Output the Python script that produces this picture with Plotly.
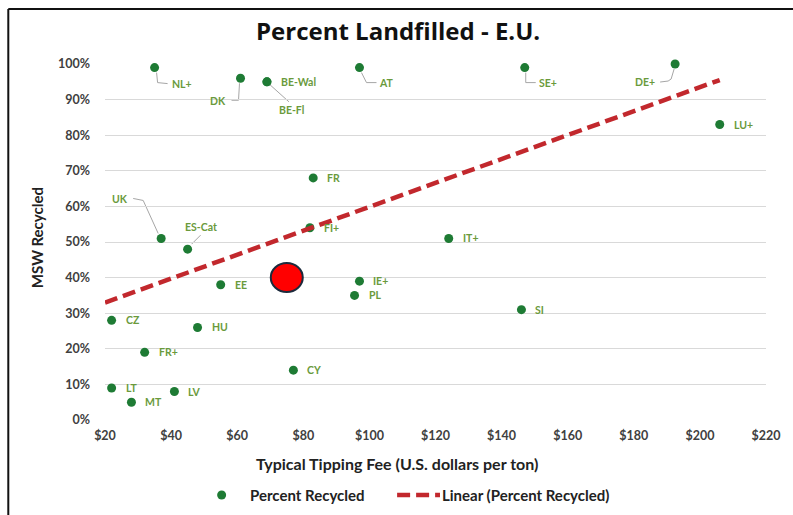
import plotly.graph_objects as go

# --- data -----------------------------------------------------------------
countries = ["NL+", "DK", "BE-Wal", "BE-Fl", "AT", "SE+", "DE+", "LU+", "FR", "FI+",
             "UK", "ES-Cat", "IT+", "EE", "IE+", "PL", "SI", "CZ", "HU", "FR+",
             "CY", "LT", "LV", "MT"]
tipping_fee = [35, 61, 69, 69, 97, 147, 192.5, 206, 83, 82,
               37, 45, 124, 55, 97, 95.5, 146, 22, 48, 32,
               77, 22, 41, 28]
pct_recycled = [0.99, 0.96, 0.95, 0.95, 0.99, 0.99, 1.00, 0.83, 0.68, 0.54,
                0.51, 0.48, 0.51, 0.38, 0.39, 0.35, 0.31, 0.28, 0.26, 0.19,
                0.14, 0.09, 0.08, 0.05]

# linear trendline end points
trend_fee = [20, 206]
trend_pct = [0.33, 0.955]

# highlighted position
highlight_fee = 75
highlight_pct = 0.40

x_ticks = list(range(20, 221, 20))
y_ticks = [i / 10 for i in range(0, 11)]

# --- styling --------------------------------------------------------------
POINT = "#1e7b34"
LABEL = "#6a9a3c"
LEADER = "#a6a6a6"
TREND = "#c2282d"
AXIS_TXT = "#404040"
FONT = "Lato, 'Open Sans', sans-serif"
TITLE_FONT = "'Open Sans', Lato, sans-serif"
TREND_DASH = "13px,6px"

W, H = 793, 515
L, R, T, B = 105, 25, 64, 95
PW, PH = W - L - R, H - T - B


def px_x(px):
    """Horizontal pixel position -> paper coordinate."""
    return (px - L) / PW


def px_y(py):
    """Vertical pixel position (from top) -> paper coordinate."""
    return (T + PH - py) / PH


# label placement: (anchor, dx, dy) in screen pixels from the point, plus leader path
label_pos = {
    "NL+": ("left", 17, 16, [(2, 5), (3, 15), (13, 16)]),
    "DK": ("right", -15, 23, [(-1, 5), (-2, 22), (-9, 22)]),
    "BE-Fl": ("center", 25, 28, [(2, 2), (22, 20)]),
    "AT": ("left", 20, 15, [(2, 5), (7, 15), (17, 15)]),
    "SE+": ("left", 14, 15, [(1, 5), (1, 15), (11, 15)]),
    "DE+": ("right", -20, 18, [(-1, 5), (-4, 15), (-7, 17), (-15, 18)]),
    "UK": ("right", -33, -39, [(-3, -5), (-18, -38), (-28, -40)]),
    "ES-Cat": ("center", 13, -22, [(4, -5), (13, -14)]),
}

fig = go.Figure()

fig.add_trace(go.Scatter(
    x=tipping_fee, y=pct_recycled, mode="markers", name="Percent Recycled",
    marker=dict(color=POINT, size=9), cliponaxis=False, showlegend=False,
))
fig.add_trace(go.Scatter(
    x=trend_fee, y=trend_pct, mode="lines", name="Linear (Percent Recycled)",
    line=dict(color=TREND, width=4.5, dash=TREND_DASH), showlegend=False,
))

annotations = []
shapes = []
for name, fx, fy in zip(countries, tipping_fee, pct_recycled):
    anchor, dx, dy, leader = label_pos.get(name, ("left", 14, 0, None))
    pad = {"left": -2, "right": 2, "center": 0}[anchor]
    annotations.append(dict(
        x=fx, y=fy, xref="x", yref="y", text=name, showarrow=False,
        xanchor=anchor, yanchor="middle", xshift=dx + pad, yshift=-dy,
        font=dict(family=FONT, size=10.5, color=LABEL, weight="bold"),
    ))
    if leader:
        path = "M " + " L ".join(f"{px},{-py}" for px, py in leader)
        shapes.append(dict(
            type="path", xref="x", yref="y", xsizemode="pixel", ysizemode="pixel",
            xanchor=fx, yanchor=fy, path=path, layer="below",
            line=dict(color=LEADER, width=1),
        ))

# highlighted marker
shapes.append(dict(
    type="circle", xref="x", yref="y", xsizemode="pixel", ysizemode="pixel",
    xanchor=highlight_fee, yanchor=highlight_pct, x0=-16, x1=16, y0=-14.5, y1=14.5,
    fillcolor="#ff0000", line=dict(color="#1c2a3c", width=2), layer="above",
))

# frame lines of the chart box
shapes.append(dict(type="line", xref="paper", yref="paper", x0=px_x(8), x1=px_x(800),
                   y0=px_y(9), y1=px_y(9), line=dict(color="#111111", width=2)))
shapes.append(dict(type="line", xref="paper", yref="paper", x0=px_x(8), x1=px_x(8),
                   y0=px_y(9), y1=px_y(520), line=dict(color="#111111", width=2)))

# legend (symbol + text pairs below the x-axis title)
LEG_Y = 495
shapes.append(dict(
    type="circle", xref="paper", yref="paper", xsizemode="pixel", ysizemode="pixel",
    xanchor=px_x(222), yanchor=px_y(LEG_Y), x0=-4.5, x1=4.5, y0=-4.5, y1=4.5,
    fillcolor=POINT, line=dict(width=0),
))
shapes.append(dict(
    type="line", xref="paper", yref="paper", x0=px_x(398), x1=px_x(441),
    y0=px_y(LEG_Y), y1=px_y(LEG_Y), line=dict(color=TREND, width=4.5, dash=TREND_DASH),
))
for txt, left in [("Percent Recycled", 250), ("Linear (Percent Recycled)", 443)]:
    annotations.append(dict(
        text=txt, xref="paper", yref="paper", x=px_x(left - 2), y=px_y(LEG_Y),
        showarrow=False, xanchor="left", yanchor="middle",
        font=dict(family=FONT, size=15, color="#222222", weight="bold"),
    ))

# titles
annotations.append(dict(
    text="Percent Landfilled - E.U.", xref="paper", yref="paper",
    x=px_x(399), y=px_y(30), showarrow=False, xanchor="center", yanchor="middle",
    font=dict(family=TITLE_FONT, size=24, color="#111111", weight="bold"),
))
annotations.append(dict(
    text="Typical Tipping Fee (U.S. dollars per ton)", xref="paper", yref="paper",
    x=px_x(398), y=px_y(463), showarrow=False, xanchor="center", yanchor="middle",
    font=dict(family=FONT, size=16, color="#222222", weight="bold"),
))
annotations.append(dict(
    text="MSW Recycled", xref="paper", yref="paper",
    x=px_x(37), y=px_y(238), showarrow=False, textangle=-90,
    xanchor="center", yanchor="middle",
    font=dict(family=FONT, size=15, color="#222222", weight="bold"),
))

fig.update_layout(
    width=W, height=H,
    margin=dict(l=L, r=R, t=T, b=B),
    paper_bgcolor="white", plot_bgcolor="white",
    showlegend=False,
    annotations=annotations,
    shapes=shapes,
    xaxis=dict(
        range=[20, 220], tickvals=x_ticks, ticktext=[f"${v}" for v in x_ticks],
        showgrid=False, zeroline=False, showline=False, ticks="",
        tickfont=dict(family=FONT, size=12.5, color=AXIS_TXT, weight="bold"),
        ticklabelstandoff=6,
    ),
    yaxis=dict(
        range=[0, 1.0001], tickvals=y_ticks, tickformat=".0%",
        showgrid=True, gridcolor="#d9d9d9", gridwidth=1, zeroline=False,
        showline=False, ticks="",
        tickfont=dict(family=FONT, size=12.5, color=AXIS_TXT, weight="bold"),
        ticklabelstandoff=14,
    ),
)

fig.write_html("out.html")
